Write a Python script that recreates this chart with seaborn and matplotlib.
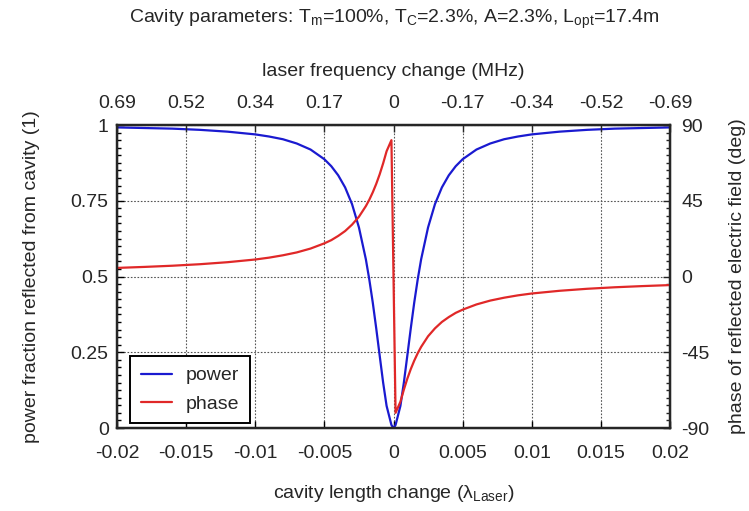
import matplotlib
matplotlib.use("Agg")
import matplotlib.pyplot as plt
import matplotlib.ticker as mticker
import seaborn as sns

# values (negative half; the curve is mirrored about zero)
x_left = [-0.020, -0.018, -0.016, -0.014, -0.012, -0.010, -0.009, -0.008, -0.007, -0.006,
          -0.005, -0.0045, -0.004, -0.0035, -0.003, -0.0025, -0.002, -0.00175, -0.0015,
          -0.00125, -0.001, -0.00075, -0.0005, -0.00015]
power_left = [0.992, 0.990, 0.988, 0.984, 0.978, 0.969, 0.962, 0.953, 0.939, 0.919,
              0.887, 0.864, 0.834, 0.794, 0.739, 0.662, 0.557, 0.490, 0.414,
              0.329, 0.239, 0.150, 0.073, 0.010]
phase_left = [5.1, 5.7, 6.4, 7.3, 8.5, 10.1, 11.2, 12.6, 14.3, 16.6,
              19.7, 21.6, 24.1, 27.0, 30.8, 35.5, 41.8, 45.6, 50.0,
              55.0, 60.7, 67.2, 74.4, 81.0]
x_center = [0.0]
power_center = [0.0]
phase_center = [0.0]

x_vals = x_left + x_center + [-v for v in x_left[::-1]]
power_vals = power_left + power_center + power_left[::-1]
phase_vals = phase_left + phase_center + [-v for v in phase_left[::-1]]

x_ticks = [-0.02, -0.015, -0.01, -0.005, 0, 0.005, 0.01, 0.015, 0.02]
x_tick_labels = ["-0.02", "-0.015", "-0.01", "-0.005", "0", "0.005", "0.01", "0.015", "0.02"]
top_tick_labels = ["0.69", "0.52", "0.34", "0.17", "0", "-0.17", "-0.34", "-0.52", "-0.69"]
power_ticks = [0, 0.25, 0.5, 0.75, 1]
power_tick_labels = ["0", "0.25", "0.5", "0.75", "1"]
phase_ticks = [-90, -45, 0, 45, 90]
phase_tick_labels = ["-90", "-45", "0", "45", "90"]

sns.set_style("ticks")
plt.rcParams["font.family"] = ["Liberation Sans", "DejaVu Sans"]
plt.rcParams["mathtext.fontset"] = "custom"
plt.rcParams["mathtext.rm"] = "Liberation Sans"
plt.rcParams["mathtext.it"] = "Liberation Sans"
plt.rcParams["axes.unicode_minus"] = False

FS = 14
fig = plt.figure(figsize=(7.49, 5.11), dpi=100)
ax = fig.add_axes([117/749, 83/511, 553/749, 303/511])

blue = "#1a1ad0"
red = "#e02828"
sns.lineplot(x=x_vals, y=power_vals, ax=ax, color=blue, linewidth=1.6, label="power", legend=False, sort=False)
ax.set_xlim(-0.02, 0.02)
ax.set_ylim(0, 1)
ax.set_xticks(x_ticks)
ax.set_xticklabels(x_tick_labels)
ax.set_yticks(power_ticks)
ax.set_yticklabels(power_tick_labels)
ax.yaxis.set_minor_locator(mticker.MultipleLocator(0.025))
ax.grid(True, which="major", linestyle=(0, (1.5, 1.5)), color="#555555", linewidth=0.8)
ax.tick_params(axis="both", which="both", direction="in", labelsize=FS, color="black")
ax.tick_params(axis="both", which="major", length=5, width=1)
ax.tick_params(axis="y", which="minor", length=3, width=1)
ax.tick_params(axis="y", which="major", pad=6)
ax.tick_params(axis="x", which="major", top=False, pad=12)
ax.set_xlabel(r"cavity length change ($\lambda_{\mathrm{Laser}}$)", fontsize=FS, labelpad=15)
ax.set_ylabel("power fraction reflected from cavity (1)", fontsize=FS, labelpad=22)
for s in ax.spines.values():
    s.set_linewidth(1.6)
    s.set_color("black")

ax2 = ax.twinx()
sns.lineplot(x=x_vals, y=phase_vals, ax=ax2, color=red, linewidth=1.6, label="phase", legend=False, sort=False)
ax2.set_ylim(-90, 90)
ax2.set_yticks(phase_ticks)
ax2.set_yticklabels(phase_tick_labels)
ax2.yaxis.set_minor_locator(mticker.MultipleLocator(4.5))
ax2.tick_params(axis="y", which="both", direction="in", labelsize=FS)
ax2.tick_params(axis="y", which="major", length=5, width=1, pad=8)
ax2.tick_params(axis="y", which="minor", length=3, width=1)
ax2.set_ylabel("phase of reflected electric field (deg)", fontsize=FS, labelpad=14)
ax2.grid(False)
for s in ax2.spines.values():
    s.set_linewidth(1.6)

ax3 = ax.twiny()
ax3.set_xlim(-0.02, 0.02)
ax3.set_xticks(x_ticks)
ax3.set_xticklabels(top_tick_labels)
ax3.tick_params(axis="x", which="major", direction="in", labelsize=FS, length=5, width=1, pad=9)
ax3.set_xlabel("laser frequency change (MHz)", fontsize=FS, labelpad=14)
ax3.grid(False)

h1, l1 = ax.get_legend_handles_labels()
h2, l2 = ax2.get_legend_handles_labels()
leg = ax2.legend(h1 + h2, l1 + l2, loc="lower left", bbox_to_anchor=(0.024, 0.015),
                 fontsize=FS, frameon=True, fancybox=False, framealpha=1,
                 edgecolor="black", handlelength=1.6, handletextpad=0.7,
                 borderpad=0.55, borderaxespad=0, labelspacing=0.55)
leg.get_frame().set_linewidth(1.4)

fig.text(394/749, 1 - 19/511,
         r"Cavity parameters: T$_{\mathrm{m}}$=100%, T$_{\mathrm{C}}$=2.3%, A=2.3%, L$_{\mathrm{opt}}$=17.4m",
         ha="center", va="center", fontsize=FS)

fig.savefig("out.png", dpi=100)
